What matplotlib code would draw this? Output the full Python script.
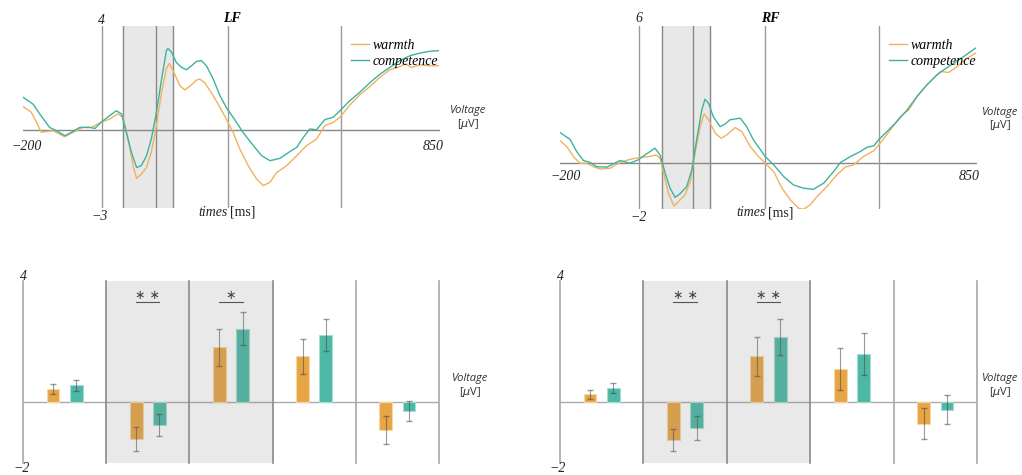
import matplotlib.pyplot as plt
import numpy as np

W, H = 1022, 475

# ERP time courses (ms, µV)
lf_comp_t = [-200, -175, -158, -133, -112, -95, -78, -57, -32, -19, -3, 18, 35, 48, 60, 73, 86, 98, 111, 123,
             136, 149, 161, 165, 174, 186, 199, 212, 224, 237, 249, 262, 279, 296, 314, 329, 354, 380, 401, 422,
             447, 472, 489, 506, 522, 539, 560, 581, 598, 623, 648, 674, 699, 724, 749, 775, 800, 825, 846]
lf_comp_v = [1.26, 1.0, 0.62, 0.1, -0.06, -0.22, -0.09, 0.1, 0.1, 0.06, 0.3, 0.55, 0.74, 0.62, -0.09, -0.86,
             -1.44, -1.37, -0.99, -0.35, 0.68, 1.96, 3.05, 3.14, 2.99, 2.6, 2.41, 2.32, 2.47, 2.64, 2.67, 2.47,
             1.96, 1.32, 0.81, 0.49, -0.09, -0.6, -0.99, -1.18, -1.09, -0.83, -0.67, -0.28, 0.04, 0.01, 0.4,
             0.49, 0.74, 1.13, 1.45, 1.83, 2.15, 2.41, 2.67, 2.86, 2.96, 3.03, 3.05]
lf_warm_t = [-200, -179, -166, -154, -141, -124, -95, -74, -49, -28, -7, 18, 39, 52, 65, 77, 86, 98, 111, 123,
             136, 149, 161, 168, 178, 195, 207, 220, 237, 245, 258, 279, 296, 314, 329, 346, 367, 388, 405, 422,
             438, 464, 489, 514, 539, 560, 581, 598, 623, 648, 674, 699, 724, 745, 762, 779, 800, 825, 846]
lf_warm_v = [0.9, 0.68, 0.3, -0.09, -0.06, -0.03, -0.26, -0.09, 0.1, 0.1, 0.27, 0.42, 0.62, 0.49, -0.35, -1.37,
             -1.86, -1.69, -1.44, -0.86, 0.17, 1.45, 2.35, 2.56, 2.28, 1.71, 1.54, 1.68, 1.92, 1.96, 1.81, 1.32,
             0.87, 0.36, -0.09, -0.73, -1.37, -1.88, -2.14, -2.01, -1.65, -1.37, -0.99, -0.6, -0.35, 0.17, 0.29,
             0.49, 0.96, 1.35, 1.68, 2.03, 2.32, 2.41, 2.54, 2.41, 2.5, 2.47, 2.47]

rf_comp_t = [-200, -175, -158, -141, -124, -108, -82, -66, -49, -24, -3, 18, 39, 52, 65, 77, 90, 102, 119, 132,
             144, 157, 165, 174, 186, 203, 216, 228, 254, 270, 287, 317, 338, 363, 388, 413, 438, 464, 489, 506,
             531, 556, 573, 590, 602, 623, 648, 674, 699, 724, 749, 766, 791, 816, 846]
rf_comp_v = [1.34, 1.05, 0.51, 0.12, 0.03, -0.15, -0.17, -0.03, 0.12, 0.0, 0.15, 0.41, 0.66, 0.36, -0.44, -1.09,
             -1.49, -1.34, -1.02, -0.29, 1.02, 2.33, 2.8, 2.62, 2.04, 1.6, 1.72, 1.9, 1.97, 1.6, 1.02, 0.29,
             -0.07, -0.58, -0.95, -1.09, -1.14, -0.87, -0.36, 0.03, 0.29, 0.51, 0.7, 0.76, 1.02, 1.38, 1.82,
             2.33, 2.92, 3.43, 3.86, 4.08, 4.37, 4.66, 5.03]
rf_warm_t = [-200, -183, -166, -150, -133, -116, -99, -74, -49, -24, 2, 23, 42, 52, 60, 73, 87, 98, 115, 128,
             140, 153, 163, 174, 191, 206, 220, 241, 258, 279, 300, 317, 338, 359, 380, 401, 413, 430, 447, 472,
             497, 518, 539, 564, 590, 606, 632, 657, 678, 699, 724, 758, 779, 800, 825, 846]
rf_warm_v = [0.99, 0.73, 0.29, 0.0, 0.0, -0.15, -0.25, -0.22, 0.03, 0.17, 0.26, 0.29, 0.36, 0.22, -0.36, -1.31,
             -1.87, -1.68, -1.38, -0.8, 0.44, 1.6, 2.16, 1.9, 1.31, 1.09, 1.24, 1.56, 1.38, 0.73, 0.29, 0.0,
             -0.36, -1.09, -1.6, -1.97, -2.01, -1.82, -1.46, -1.02, -0.51, -0.17, -0.07, 0.29, 0.55, 0.87, 1.46,
             2.04, 2.33, 2.92, 3.43, 4.01, 3.97, 4.23, 4.59, 4.81]

# time windows (ms)
lf_bounds = [53, 134, 177, 316, 601]
rf_bounds = [58, 136, 177, 316, 604]

# mean amplitude per window (µV) and error
lf_warm_bar = [0.45, -1.2, 1.81, 1.52, -0.91]
lf_warm_err = [0.16, 0.4, 0.6, 0.58, 0.46]
lf_comp_bar = [0.56, -0.75, 2.43, 2.22, -0.3]
lf_comp_err = [0.18, 0.36, 0.54, 0.52, 0.33]
rf_warm_bar = [0.26, -1.25, 1.52, 1.11, -0.7]
rf_warm_err = [0.16, 0.37, 0.64, 0.69, 0.5]
rf_comp_bar = [0.48, -0.84, 2.16, 1.59, -0.24]
rf_comp_err = [0.16, 0.39, 0.6, 0.7, 0.48]
lf_sig = {1: '∗ ∗', 2: '∗'}
rf_sig = {1: '∗ ∗', 2: '∗ ∗'}

warm_line = '#F0B25E'
comp_line = '#3DB39F'
warm_bar = '#E8A546'
comp_bar = '#4DB8A5'
grid_c = '#9a9a9a'

serif = 'Liberation Serif'
sans = 'Open Sans'

fig = plt.figure(figsize=(W / 100, H / 100), dpi=100)


def px_axes(l, t, r, b):
    return fig.add_axes([l / W, 1 - b / H, (r - l) / W, (b - t) / H])


def ftext(x, y, s, **kw):
    kw.setdefault('ha', 'center')
    kw.setdefault('va', 'center')
    fig.text(x / W, 1 - y / H, s, **kw)


def erp_panel(box, ylim, bounds, warm_t, warm_v, comp_t, comp_v):
    ax = px_axes(*box)
    ax.set_xlim(-200, 850)
    ax.set_ylim(*ylim)
    ax.axis('off')
    ax.axvspan(bounds[0], bounds[2], color='#e8e8e8', zorder=0)
    ax.axhline(0, color='#888888', lw=1, zorder=1)
    ax.axvline(0, color=grid_c, lw=1, zorder=1)
    for i, b in enumerate(bounds):
        ax.axvline(b, color='#8a8a8a' if i < 3 else grid_c, lw=1, zorder=1)
    ax.plot(warm_t, warm_v, color=warm_line, lw=1, zorder=3, label='warmth')
    ax.plot(comp_t, comp_v, color=comp_line, lw=1, zorder=3, label='competence')
    return ax


def bar_panel(box, warm, werr, comp, cerr, sig):
    ax = px_axes(*box)
    ax.set_xlim(0, 5)
    ax.set_ylim(-2, 4)
    ax.axis('off')
    x = np.arange(5)
    ax.bar(x + 0.36, warm, 0.155, color=warm_bar, edgecolor='#f6d7a6', lw=0.8, zorder=2)
    ax.bar(x + 0.64, comp, 0.155, color=comp_bar, edgecolor='#a8ddd2', lw=0.8, zorder=2)
    ax.errorbar(x + 0.36, warm, yerr=werr, fmt='none', ecolor='#444444', alpha=0.55, lw=0.8, capsize=2, zorder=3)
    ax.errorbar(x + 0.64, comp, yerr=cerr, fmt='none', ecolor='#444444', alpha=0.55, lw=0.8, capsize=2, zorder=3)
    # shaded windows drawn over the bars
    ax.axvspan(1, 3, color='#808080', alpha=0.17, lw=0, zorder=4)
    ax.axhline(0, color='#aaaaaa', lw=1, zorder=1)
    for b in range(0, 6):
        ax.axvline(b, color='#a8a8a8' if b in (0, 4, 5) else '#8a8a8a', lw=1.2, zorder=5, clip_on=False)
    for g, s in sig.items():
        ax.plot([g + 0.36, g + 0.64], [3.32, 3.32], color='#555555', lw=0.8, zorder=5)
        ax.text(g + 0.5, 3.3, s, ha='center', va='bottom', fontsize=9, color='#444444', zorder=5,
                family='DejaVu Sans')
    return ax


lf = erp_panel((23, 26, 440, 208), (-3, 4), lf_bounds, lf_warm_t, lf_warm_v, lf_comp_t, lf_comp_v)
rf = erp_panel((560, 26, 977, 209), (-2, 6), rf_bounds, rf_warm_t, rf_warm_v, rf_comp_t, rf_comp_v)
bar_panel((23, 281, 439, 463), lf_warm_bar, lf_warm_err, lf_comp_bar, lf_comp_err, lf_sig)
bar_panel((560, 281, 977, 463), rf_warm_bar, rf_warm_err, rf_comp_bar, rf_comp_err, rf_sig)

for ax, x0 in ((lf, 345), (rf, 883)):
    ax.legend(loc='upper left', bbox_to_anchor=((x0 - (23 if ax is lf else 560)) / 417, 0.96),
              frameon=False, handlelength=1.3, handletextpad=0.3, labelspacing=0.2, borderaxespad=0,
              prop={'family': serif, 'style': 'italic', 'size': 10})

num = dict(family=serif, style='italic', fontsize=10, color='#222222')
ftext(101, 21, '4', **num)
ftext(100, 217, '−3', **num)
ftext(27, 147, '−200', **num)
ftext(433, 147, '850', **num)
ftext(232, 18, 'LF', family=serif, style='italic', weight='bold', fontsize=10)
ftext(639, 19, '6', **num)
ftext(639, 218, '−2', **num)
ftext(566, 176, '−200', **num)
ftext(969, 176, '850', **num)
ftext(770, 18, 'RF', family=serif, style='italic', weight='bold', fontsize=10)

for cx, cy in ((230, 212), (768, 213)):
    ftext(cx - 2, cy, 'times', ha='right', **num)
    ftext(cx, cy, '[ms]', ha='left', family=serif, fontsize=10, color='#222222')

ftext(23, 276, '4', **num)
ftext(22, 469, '−2', **num)
ftext(560, 276, '4', **num)
ftext(558, 469, '−2', **num)

for cx, cy in ((468, 111), (1000, 112), (470, 379), (1000, 379)):
    ftext(cx, cy, 'Voltage', family=sans, style='italic', fontsize=8, color='#333333')
    ftext(cx, cy + 13, r'[$\mu$V]', family=sans, fontsize=8, color='#333333')

fig.savefig('out.png', dpi=100)
